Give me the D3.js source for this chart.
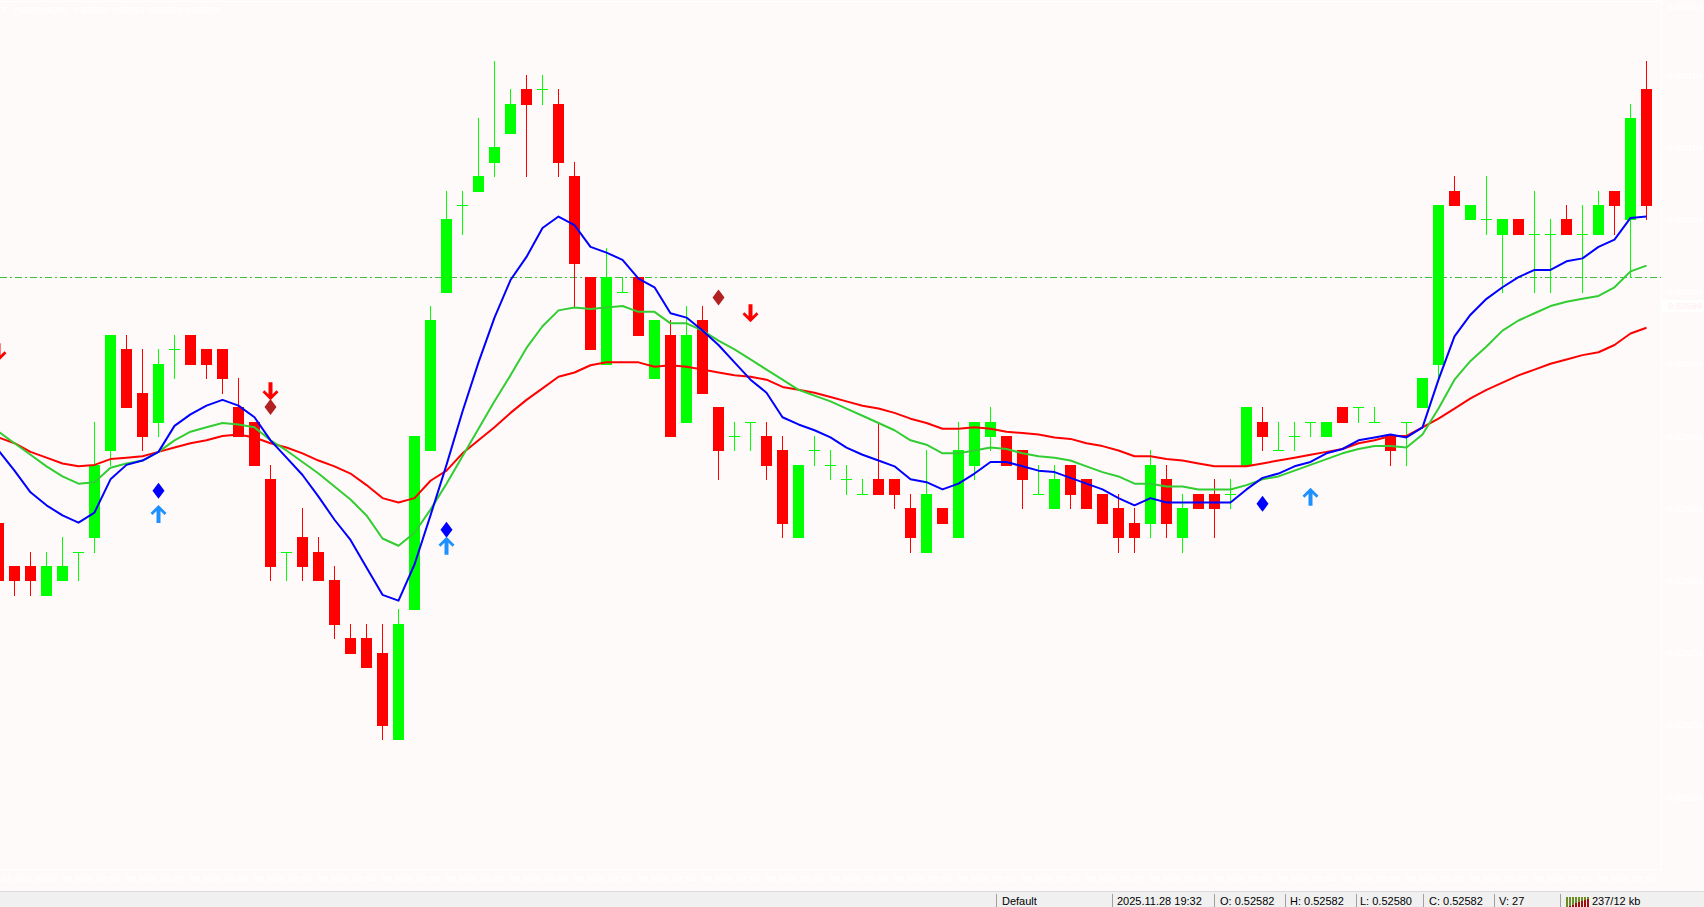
<!DOCTYPE html>
<html><head><meta charset="utf-8">
<script src="https://cdn.jsdelivr.net/npm/d3@7/dist/d3.min.js"></script>
<style>
html,body{margin:0;padding:0;background:#FFFAFA;overflow:hidden}
svg{display:block}
</style></head><body>
<svg id="c" width="1704" height="907"></svg>
<script>
// ---------------- DATA (AUDCHF, M1) ----------------
const symbolTitle = "AUDCHF,M1  0.52592 0.52601 0.52592 0.52599";
const firstBar = -1; // index of the first (partially visible) bar
const open = [0.52584,0.52581,0.52581,0.52579,0.52580,0.52582,0.52583,0.52589,0.52596,0.52593,0.52591,
0.52596,0.52597,0.52596,0.52596,0.52592,0.52591,0.52587,0.52582,0.52583,0.52582,
0.52580,0.52576,0.52576,0.52575,0.52569,0.52578,0.52589,0.52600,0.52606,0.52607,
0.52609,0.52611,0.52614,0.52614,0.52613,0.52608,0.52601,0.52595,0.52600,0.52601,
0.52594,0.52597,0.52591,0.52598,0.52592,0.52590,0.52591,0.52590,0.52589,0.52583,
0.52589,0.52588,0.52587,0.52586,0.52587,0.52587,0.52585,0.52582,0.52585,0.52583,
0.52588,0.52590,0.52590,0.52589,0.52586,0.52585,0.52588,0.52587,0.52586,0.52585,
0.52584,0.52584,0.52587,0.52583,0.52586,0.52586,0.52586,0.52588,0.52591,0.52589,
0.52590,0.52591,0.52590,0.52592,0.52592,0.52591,0.52590,0.52591,0.52592,0.52595,
0.52607,0.52605,0.52605,0.52604,0.52605,0.52604,0.52604,0.52605,0.52604,0.52604,
0.52607,0.52605,0.52614];
const high = [0.52584,0.52581,0.52582,0.52582,0.52583,0.52582,0.52591,0.52597,0.52597,0.52596,0.52596,
0.52597,0.52597,0.52596,0.52596,0.52594,0.52591,0.52588,0.52582,0.52585,0.52583,
0.52581,0.52577,0.52577,0.52577,0.52578,0.52590,0.52599,0.52607,0.52607,0.52612,
0.52616,0.52614,0.52615,0.52615,0.52614,0.52609,0.52601,0.52603,0.52601,0.52601,
0.52598,0.52598,0.52599,0.52599,0.52592,0.52591,0.52591,0.52591,0.52590,0.52588,
0.52590,0.52589,0.52588,0.52587,0.52591,0.52587,0.52586,0.52589,0.52585,0.52591,
0.52591,0.52592,0.52590,0.52589,0.52588,0.52588,0.52588,0.52587,0.52586,0.52586,
0.52585,0.52589,0.52588,0.52586,0.52586,0.52587,0.52587,0.52592,0.52592,0.52591,
0.52591,0.52591,0.52591,0.52592,0.52592,0.52592,0.52590,0.52591,0.52594,0.52606,
0.52608,0.52606,0.52608,0.52605,0.52605,0.52607,0.52605,0.52606,0.52606,0.52607,
0.52607,0.52613,0.52616];
const low = [0.52579,0.52579,0.52579,0.52579,0.52580,0.52580,0.52582,0.52588,0.52592,0.52589,0.52590,
0.52594,0.52595,0.52594,0.52593,0.52590,0.52588,0.52580,0.52580,0.52580,0.52580,
0.52576,0.52575,0.52574,0.52569,0.52569,0.52578,0.52589,0.52600,0.52604,0.52607,
0.52608,0.52611,0.52608,0.52613,0.52608,0.52599,0.52596,0.52595,0.52600,0.52597,
0.52594,0.52590,0.52591,0.52593,0.52587,0.52589,0.52589,0.52587,0.52583,0.52583,
0.52588,0.52587,0.52586,0.52586,0.52586,0.52585,0.52582,0.52582,0.52584,0.52583,
0.52587,0.52589,0.52588,0.52585,0.52586,0.52585,0.52585,0.52585,0.52584,0.52582,
0.52582,0.52583,0.52583,0.52582,0.52585,0.52583,0.52585,0.52588,0.52589,0.52589,
0.52589,0.52590,0.52590,0.52591,0.52591,0.52591,0.52588,0.52588,0.52592,0.52594,
0.52606,0.52605,0.52604,0.52600,0.52604,0.52600,0.52600,0.52604,0.52600,0.52604,
0.52604,0.52601,0.52605];
const close = [0.52580,0.52580,0.52580,0.52581,0.52581,0.52582,0.52588,0.52597,0.52592,0.52590,0.52595,
0.52596,0.52595,0.52595,0.52594,0.52590,0.52588,0.52581,0.52582,0.52581,0.52580,
0.52577,0.52575,0.52574,0.52570,0.52577,0.52590,0.52598,0.52605,0.52606,0.52608,
0.52610,0.52613,0.52613,0.52614,0.52609,0.52602,0.52596,0.52601,0.52600,0.52597,
0.52598,0.52590,0.52597,0.52593,0.52589,0.52590,0.52591,0.52588,0.52584,0.52588,
0.52589,0.52588,0.52587,0.52586,0.52586,0.52586,0.52583,0.52586,0.52584,0.52589,
0.52591,0.52591,0.52588,0.52587,0.52586,0.52587,0.52586,0.52585,0.52584,0.52583,
0.52583,0.52588,0.52584,0.52585,0.52585,0.52585,0.52586,0.52592,0.52590,0.52589,
0.52590,0.52591,0.52591,0.52591,0.52592,0.52591,0.52589,0.52591,0.52594,0.52606,
0.52606,0.52606,0.52605,0.52605,0.52604,0.52604,0.52604,0.52604,0.52604,0.52606,
0.52606,0.52612,0.52606];
// moving averages (fast blue, middle green, slow red)
const maFast = [0.525890,0.525876,0.525861,0.525852,0.525845,0.525840,0.525847,0.525870,0.525880,0.525883,0.525889,
0.525907,0.525915,0.525921,0.525925,0.525921,0.525913,0.525897,0.525885,0.525873,0.525858,
0.525842,0.525828,0.525809,0.525790,0.525786,0.525811,0.525845,0.525880,0.525917,0.525951,
0.525982,0.526008,0.526024,0.526044,0.526052,0.526046,0.526031,0.526027,0.526022,0.526009,
0.526003,0.525985,0.525982,0.525973,0.525963,0.525951,0.525939,0.525930,0.525913,0.525908,
0.525904,0.525899,0.525892,0.525887,0.525883,0.525879,0.525870,0.525868,0.525863,0.525867,
0.525874,0.525882,0.525882,0.525879,0.525876,0.525875,0.525871,0.525867,0.525863,0.525857,
0.525852,0.525857,0.525854,0.525854,0.525854,0.525854,0.525854,0.525863,0.525871,0.525874,
0.525879,0.525882,0.525888,0.525891,0.525897,0.525899,0.525901,0.525899,0.525906,0.525939,
0.525969,0.525984,0.525995,0.526003,0.526010,0.526015,0.526015,0.526021,0.526023,0.526031,
0.526036,0.526051,0.526052];
const maMid = [0.525903,0.525895,0.525887,0.525879,0.525872,0.525867,0.525868,0.525878,0.525881,0.525883,0.525889,
0.525897,0.525903,0.525906,0.525909,0.525908,0.525906,0.525897,0.525890,0.525882,0.525874,
0.525865,0.525856,0.525845,0.525829,0.525824,0.525833,0.525849,0.525867,0.525886,0.525905,
0.525924,0.525942,0.525961,0.525976,0.525987,0.525989,0.525988,0.525989,0.525990,0.525986,
0.525986,0.525978,0.525978,0.525973,0.525966,0.525960,0.525953,0.525946,0.525939,0.525932,
0.525928,0.525924,0.525919,0.525914,0.525909,0.525904,0.525897,0.525894,0.525888,0.525888,
0.525890,0.525892,0.525891,0.525888,0.525886,0.525885,0.525883,0.525879,0.525875,0.525872,
0.525867,0.525867,0.525865,0.525865,0.525863,0.525863,0.525863,0.525866,0.525870,0.525872,
0.525876,0.525880,0.525884,0.525888,0.525891,0.525893,0.525893,0.525892,0.525901,0.525919,
0.525939,0.525952,0.525962,0.525973,0.525980,0.525985,0.525990,0.525993,0.525995,0.525997,
0.526003,0.526014,0.526018];
const maSlow = [0.525899,0.525895,0.525889,0.525885,0.525881,0.525879,0.525880,0.525884,0.525885,0.525886,0.525889,
0.525892,0.525895,0.525897,0.525900,0.525901,0.525899,0.525895,0.525892,0.525888,0.525883,
0.525879,0.525874,0.525866,0.525857,0.525854,0.525857,0.525869,0.525876,0.525888,0.525897,
0.525906,0.525916,0.525925,0.525933,0.525941,0.525944,0.525949,0.525951,0.525951,0.525951,
0.525948,0.525949,0.525948,0.525946,0.525944,0.525942,0.525941,0.525939,0.525934,0.525932,
0.525930,0.525927,0.525924,0.525921,0.525919,0.525916,0.525912,0.525909,0.525905,0.525905,
0.525906,0.525905,0.525903,0.525902,0.525901,0.525899,0.525898,0.525895,0.525893,0.525890,
0.525886,0.525886,0.525884,0.525883,0.525881,0.525879,0.525879,0.525879,0.525881,0.525883,
0.525885,0.525887,0.525889,0.525891,0.525895,0.525897,0.525900,0.525900,0.525906,0.525912,
0.525919,0.525926,0.525932,0.525937,0.525942,0.525946,0.525950,0.525953,0.525956,0.525958,
0.525963,0.525971,0.525975];
// signal markers: bar index + price
const buyDiamonds  = [{bar:9, price:0.525862},{bar:27, price:0.525835},{bar:78, price:0.525853}];
const sellDiamonds = [{bar:16, price:0.525920},{bar:44, price:0.525996}];
const upArrows     = [{bar:9, price:0.525846},{bar:27, price:0.525824},{bar:81, price:0.525858}];
const downArrows   = [{bar:-1, price:0.525958},{bar:16, price:0.525931},{bar:46, price:0.525985}];
const levelLine = 0.52601;
const currentPrice = "0.52599";
// axis tick labels
const priceTickLabels = ["0.52620","0.52615","0.52610","0.52605","0.52600","0.52595","0.52590","0.52585","0.52580","0.52575","0.52570","0.52565"];
const timeTickLabels = ["28 Nov 2025","28 Nov 19:18","28 Nov 19:22","28 Nov 19:26","28 Nov 19:30","28 Nov 19:34","28 Nov 19:38","28 Nov 19:42","28 Nov 19:46","28 Nov 19:50","28 Nov 19:54","28 Nov 19:58","28 Nov 20:02","28 Nov 20:06","28 Nov 20:10","28 Nov 20:14","28 Nov 20:18","28 Nov 20:22","28 Nov 20:26","28 Nov 20:30","28 Nov 20:34","28 Nov 20:38","28 Nov 20:43","28 Nov 20:47","28 Nov 20:51","28 Nov 20:55"];
const statusTexts = ["Default","2025.11.28 19:32","O: 0.52582","H: 0.52582","L: 0.52580","C: 0.52582","V: 27","237/12 kb"];

// ---------------- LAYOUT ----------------
const W = 1704, H = 907;
const plotRight = 1661, plotBottom = 869, plotTop = 2;
const statusTop = 891;
const BG = "#FFFAFA", FG = "#FFFFFF";
const UP = "#00FF00", DOWN = "#FF0000";
const FONT = "Liberation Sans, Arial, sans-serif";

const svg = d3.select("#c");
const x = d3.scaleLinear().domain([0, 1]).range([14.5, 30.5]);
const y = d3.scaleLinear().domain([0.52615, 0.52565]).range([75, 797]);

svg.append("rect").attr("width", W).attr("height", H).attr("fill", BG);

const bars = d3.range(open.length).map(k => ({
  i: k + firstBar, o: open[k], h: high[k], l: low[k], c: close[k]
}));

const defs = svg.append("defs");
defs.append("clipPath").attr("id", "plot").append("rect")
  .attr("x", 0).attr("y", plotTop).attr("width", plotRight).attr("height", plotBottom - plotTop);

const g = svg.append("g").attr("clip-path", "url(#plot)");

// level line (dash-dot)
g.append("line").attr("x1", 0).attr("x2", plotRight)
  .attr("y1", Math.round(y(levelLine)) + 0.5).attr("y2", Math.round(y(levelLine)) + 0.5)
  .attr("stroke", "#3CC03C").attr("stroke-width", 1).attr("stroke-dasharray", "7,3,2,3");

// candles
const cg = g.append("g").attr("shape-rendering", "crispEdges");
bars.forEach(b => {
  const col = b.c < b.o ? DOWN : UP;
  const cx = x(b.i);
  const yh = Math.round(y(b.h)), yl = Math.round(y(b.l));
  cg.append("rect").attr("x", Math.floor(cx)).attr("y", yh).attr("width", 1).attr("height", yl - yh + 1).attr("fill", col);
  const yt = Math.round(y(Math.max(b.o, b.c))), yb = Math.round(y(Math.min(b.o, b.c)));
  cg.append("rect").attr("x", cx - 5.5).attr("y", yt).attr("width", 11).attr("height", yb - yt + 1).attr("fill", col);
});

// moving averages
const line = d3.line().x((d, k) => x(k + firstBar)).y(d => y(d));
[[maSlow, "#FF0000"], [maMid, "#32CD32"], [maFast, "#0000FF"]].forEach(([arr, col]) => {
  g.append("path").datum(arr).attr("d", line).attr("fill", "none")
    .attr("stroke", col).attr("stroke-width", 2).attr("stroke-linejoin", "round");
});

// markers
const diamond = "M0,-8L6,0L0,8L-6,0Z";
const upArrow = "M0,-9L8,-1L6,1L2,-3L2,9L-2,9L-2,-3L-6,1L-8,-1Z";
const downArrow = "M0,9L8,1L6,-1L2,3L2,-9L-2,-9L-2,3L-6,-1L-8,1Z";
buyDiamonds.forEach(m => g.append("path").attr("d", diamond).attr("fill", "#0000FF")
  .attr("transform", `translate(${x(m.bar)},${y(m.price)})`));
sellDiamonds.forEach(m => g.append("path").attr("d", diamond).attr("fill", "#B22222")
  .attr("transform", `translate(${x(m.bar)},${y(m.price)})`));
upArrows.forEach(m => g.append("path").attr("d", upArrow).attr("fill", "#1E90FF")
  .attr("transform", `translate(${x(m.bar)},${y(m.price)})`));
downArrows.forEach(m => g.append("path").attr("d", downArrow).attr("fill", "#FF0000")
  .attr("transform", `translate(${x(m.bar)},${y(m.price)})`));

// frame
const fr = svg.append("g").attr("shape-rendering", "crispEdges").attr("stroke", FG);
fr.append("line").attr("x1", 0).attr("x2", plotRight).attr("y1", 1.5).attr("y2", 1.5);
fr.append("line").attr("x1", 0).attr("x2", plotRight + 1).attr("y1", plotBottom + 0.5).attr("y2", plotBottom + 0.5);
fr.append("line").attr("x1", plotRight + 0.5).attr("x2", plotRight + 0.5).attr("y1", 1).attr("y2", plotBottom);

// price axis
const priceTicks = priceTickLabels.map(Number);
const ya = svg.append("g").attr("transform", `translate(${plotRight + 0.5},0)`)
  .call(d3.axisRight(y).tickValues(priceTicks).tickFormat((d, k) => priceTickLabels[k]).tickSize(4).tickPadding(2));
ya.select(".domain").remove();
ya.selectAll("line").attr("stroke", FG);
ya.selectAll("text").attr("fill", FG).attr("font-family", FONT)
  .attr("font-size", "9.5px").attr("font-weight", "bold")
  .attr("y", d => Math.max(0, 6 - y(d)));   // keep the topmost label inside the window

// current price tag
const cpY = y(Number(currentPrice));
svg.append("rect").attr("x", plotRight + 1).attr("y", cpY - 6).attr("width", W - plotRight - 1).attr("height", 12).attr("fill", FG);
svg.append("text").attr("x", plotRight + 7).attr("y", cpY).attr("dy", "0.35em").text(currentPrice)
  .attr("fill", "#FFF3F3").attr("font-family", FONT).attr("font-size", "9.5px").attr("font-weight", "bold");

// time axis
const timeBars = timeTickLabels.map((t, k) => firstBar + 4 * k);
const xa = svg.append("g").attr("transform", `translate(0,${plotBottom + 0.5})`)
  .call(d3.axisBottom(x).tickValues(timeBars).tickFormat((d, k) => timeTickLabels[k]).tickSize(4).tickPadding(2));
xa.select(".domain").remove();
xa.selectAll("line").attr("stroke", FG);
xa.selectAll("text").attr("fill", FG).attr("text-anchor", "start")
  .attr("x", d => Math.max(-1, 1 - x(d))).attr("y", 4).attr("dy", "0.9em")
  .attr("font-family", FONT).attr("font-size", "9.5px").attr("font-weight", "bold");

// title (top-left)
svg.append("path").attr("d", "M2,7L8,7L5,11Z").attr("fill", FG);
svg.append("text").attr("x", 14).attr("y", 13).text(symbolTitle).attr("fill", FG)
  .attr("font-family", FONT).attr("font-size", "9.5px").attr("font-weight", "bold")
  .attr("xml:space", "preserve").style("white-space", "pre");

// status bar
svg.append("rect").attr("x", 0).attr("y", statusTop).attr("width", W).attr("height", H - statusTop).attr("fill", "#F0F0F0");
svg.append("line").attr("x1", 0).attr("x2", W).attr("y1", statusTop + 0.5).attr("y2", statusTop + 0.5).attr("stroke", "#DCDCDC");
const sepX = [996, 1112, 1214, 1285, 1356, 1423, 1494, 1560];
const textX = [1002, 1117, 1220, 1290, 1360, 1429, 1499, 1592];
sepX.forEach(sx => svg.append("line").attr("x1", sx + 0.5).attr("x2", sx + 0.5).attr("y1", statusTop + 3).attr("y2", H)
  .attr("stroke", "#A0A0A0").attr("shape-rendering", "crispEdges"));
statusTexts.forEach((t, k) => svg.append("text").attr("x", textX[k]).attr("y", 905).text(t)
  .attr("fill", "#000").attr("font-family", FONT).attr("font-size", "11px"));
// connection icon
const ic = svg.append("g").attr("shape-rendering", "crispEdges");
d3.range(8).forEach(k => {
  ic.append("rect").attr("x", 1566 + k * 3).attr("y", 897).attr("width", 2).attr("height", 10).attr("fill", "#6B8E23");
  ic.append("rect").attr("x", 1566 + k * 3).attr("y", 907 - k * 1.2).attr("width", 2).attr("height", k * 1.2).attr("fill", "#A01010");
});
</script>
</body></html>
